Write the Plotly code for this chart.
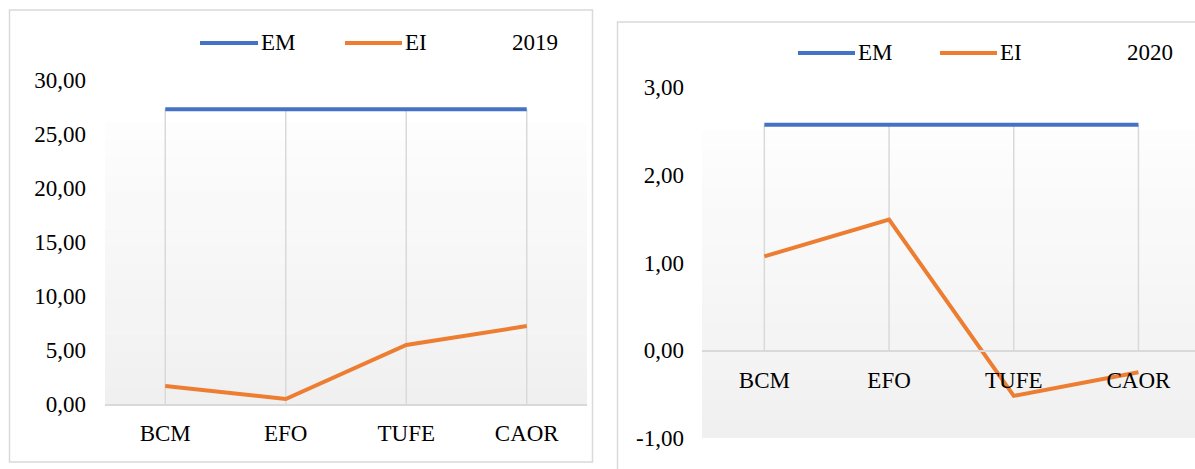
import plotly.graph_objects as go

# ---- data -------------------------------------------------------------
categories = ["BCM", "EFO", "TUFE", "CAOR"]
series_names = ["EM", "EI"]

em_2019 = [27.3, 27.3, 27.3, 27.3]
ei_2019 = [1.67, 0.46, 5.46, 7.22]

em_2020 = [2.57, 2.57, 2.57, 2.57]
ei_2020 = [1.07, 1.49, -0.52, -0.25]

yticks_2019 = [0, 5, 10, 15, 20, 25, 30]
yticks_2020 = [-1, 0, 1, 2, 3]

titles = ["2019", "2020"]

# ---- styling ----------------------------------------------------------
W, H = 1195, 469
BLUE = "#4472C4"
ORANGE = "#ED7D31"
GRID = "#d9d9d9"
FONT = dict(family="Liberation Serif, Times New Roman, serif", size=23, color="#000000")


def px(x):
    return x / W


def py(y):
    return 1 - y / H


def comma_label(v):
    """Two decimals with a decimal comma and a plain hyphen for negatives."""
    return f"{v:.2f}".replace(".", ",")


fig = go.Figure()

# line series, left panel (x/y) and right panel (x2/y2)
fig.add_trace(go.Scatter(x=categories, y=em_2019, mode="lines", name=series_names[0],
                         line=dict(color=BLUE, width=4), xaxis="x", yaxis="y",
                         showlegend=False))
fig.add_trace(go.Scatter(x=categories, y=ei_2019, mode="lines", name=series_names[1],
                         line=dict(color=ORANGE, width=4), xaxis="x", yaxis="y",
                         showlegend=False))
fig.add_trace(go.Scatter(x=categories, y=em_2020, mode="lines", name=series_names[0],
                         line=dict(color=BLUE, width=4), xaxis="x2", yaxis="y2",
                         showlegend=False))
fig.add_trace(go.Scatter(x=categories, y=ei_2020, mode="lines", name=series_names[1],
                         line=dict(color=ORANGE, width=4), xaxis="x2", yaxis="y2",
                         showlegend=False))

shapes = []


def gradient(xref, yref, x0, x1, y0, y1, n=16, top=253, bottom=240):
    """Vertical white-to-grey fill built from thin bands."""
    out = []
    step = (y1 - y0) / n
    for i in range(n):
        t = (i + 0.5) / n
        c = round(bottom + (top - bottom) * t)
        out.append(dict(type="rect", xref=xref, yref=yref, layer="below",
                        x0=x0, x1=x1, y0=y0 + i * step, y1=y0 + (i + 1) * step + step * 0.02,
                        fillcolor=f"rgb({c},{c},{c})", line=dict(width=0)))
    return out


# plot-area fills
shapes += gradient("x", "y", -0.5, 3.5, 0, 26)
shapes += gradient("x2", "y2", -0.5, 3.6, -1, 2.5)

# drop lines from the EM series down to the category axis
for i, c in enumerate(categories):
    shapes.append(dict(type="line", xref="x", yref="y", layer="below",
                       x0=i, x1=i, y0=0, y1=em_2019[i],
                       line=dict(color=GRID, width=1.5)))
    shapes.append(dict(type="line", xref="x2", yref="y2", layer="below",
                       x0=i, x1=i, y0=0, y1=em_2020[i],
                       line=dict(color=GRID, width=1.5)))

# chart borders
shapes.append(dict(type="rect", xref="paper", yref="paper",
                   x0=px(9.5), x1=px(592.5), y0=py(462), y1=py(10),
                   line=dict(color=GRID, width=1.5), fillcolor="rgba(0,0,0,0)"))
shapes.append(dict(type="rect", xref="paper", yref="paper",
                   x0=px(617.5), x1=px(1210), y0=py(490), y1=py(22),
                   line=dict(color=GRID, width=1.5), fillcolor="rgba(0,0,0,0)"))

annotations = []

# legends and titles
legend_rows = [
    (43, [(200, 258, BLUE, series_names[0]), (345, 402, ORANGE, series_names[1])], 535, titles[0]),
    (53, [(798, 855, BLUE, series_names[0]), (940, 997, ORANGE, series_names[1])], 1150, titles[1]),
]
for y, items, tx, title in legend_rows:
    for x0, x1, col, name in items:
        shapes.append(dict(type="line", xref="paper", yref="paper",
                           x0=px(x0), x1=px(x1), y0=py(y), y1=py(y),
                           line=dict(color=col, width=4)))
        annotations.append(dict(xref="paper", yref="paper", x=px(x1 + 1), y=py(y),
                                text=name, showarrow=False, xanchor="left",
                                yanchor="middle", font=FONT))
    annotations.append(dict(xref="paper", yref="paper", x=px(tx), y=py(y),
                            text=title, showarrow=False, xanchor="center",
                            yanchor="middle", font=FONT))

axis_common = dict(showgrid=False, zeroline=False, ticks="", tickfont=FONT,
                   fixedrange=True, automargin=False)

fig.update_layout(
    template="none",
    width=W, height=H,
    margin=dict(l=0, r=0, t=0, b=0, pad=0, autoexpand=False),
    paper_bgcolor="white", plot_bgcolor="rgba(0,0,0,0)",
    showlegend=False,
    shapes=shapes,
    annotations=annotations,
    xaxis=dict(domain=[px(105), px(587)], range=[-0.5, 3.5], anchor="y",
               showline=True, linecolor=GRID, linewidth=1.5,
               ticklabelstandoff=8, **axis_common),
    yaxis=dict(domain=[py(404), py(80)], range=[0, 30], anchor="x",
               tickvals=yticks_2019, ticktext=[comma_label(v) for v in yticks_2019],
               showline=False, ticklabelstandoff=18, **axis_common),
    xaxis2=dict(domain=[px(702), 1], range=[-0.5, -0.5 + (W - 702) / 124.7],
                anchor="free", position=py(351),
                showline=True, linecolor=GRID, linewidth=1.5,
                ticklabelstandoff=9, **axis_common),
    yaxis2=dict(domain=[py(438), py(87)], range=[-1, 3], anchor="x2",
                tickvals=yticks_2020, ticktext=[comma_label(v) for v in yticks_2020],
                showline=False, ticklabelstandoff=17, **axis_common),
)

fig.write_html("out.html")
